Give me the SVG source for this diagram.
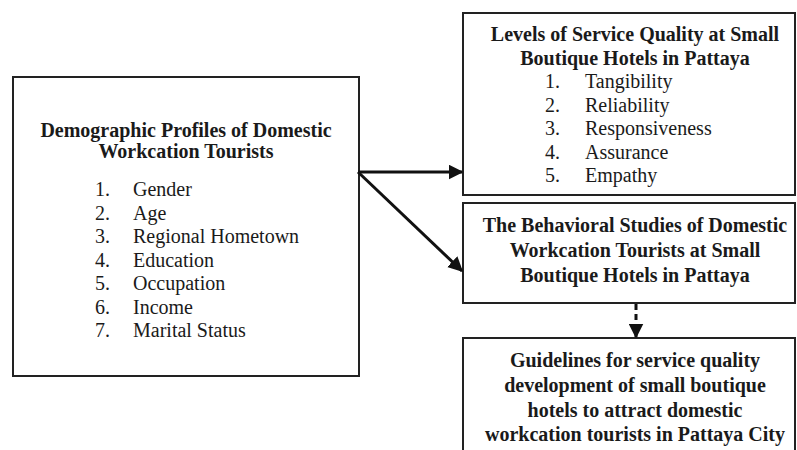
<svg xmlns="http://www.w3.org/2000/svg" width="797" height="450" viewBox="0 0 797 450">
<style>
.box{fill:#fff;stroke:#222;stroke-width:2}
.t{font-family:"Liberation Serif","Times New Roman",serif;font-size:20px;fill:#1a1a1a}
.b{font-weight:bold;text-anchor:middle}
.c{stroke:#111;stroke-width:3;fill:none}
</style>
<defs>
<marker id="ah" markerWidth="5" markerHeight="5" refX="4.5" refY="2.5" orient="auto" markerUnits="strokeWidth">
<path d="M0,0 L5,2.5 L0,5 Z" fill="#111"/>
</marker>
</defs>
<rect width="797" height="450" fill="#fff"/>
<g id="demographic">
<rect class="box" x="13" y="77" width="346" height="299"/>
<text class="t b" x="186" y="137">Demographic Profiles of Domestic</text>
<text class="t b" x="186" y="158">Workcation Tourists</text>
<g class="t">
<text x="95" y="196">1.</text><text x="133" y="196">Gender</text>
<text x="95" y="219.5">2.</text><text x="133" y="219.5">Age</text>
<text x="95" y="243">3.</text><text x="133" y="243">Regional Hometown</text>
<text x="95" y="266.5">4.</text><text x="133" y="266.5">Education</text>
<text x="95" y="290">5.</text><text x="133" y="290">Occupation</text>
<text x="95" y="313.5">6.</text><text x="133" y="313.5">Income</text>
<text x="95" y="337">7.</text><text x="133" y="337">Marital Status</text>
</g>
</g>
<g id="service-quality">
<rect class="box" x="463" y="13" width="332" height="182"/>
<text class="t b" x="635" y="41">Levels of Service Quality at Small</text>
<text class="t b" x="635" y="65">Boutique Hotels in Pattaya</text>
<g class="t">
<text x="545" y="88">1.</text><text x="585" y="88">Tangibility</text>
<text x="545" y="111.5">2.</text><text x="585" y="111.5">Reliability</text>
<text x="545" y="135">3.</text><text x="585" y="135">Responsiveness</text>
<text x="545" y="158.5">4.</text><text x="585" y="158.5">Assurance</text>
<text x="545" y="182">5.</text><text x="585" y="182">Empathy</text>
</g>
</g>
<g id="behavioral">
<rect class="box" x="463" y="203" width="332" height="100"/>
<text class="t b" x="635" y="232">The Behavioral Studies of Domestic</text>
<text class="t b" x="635" y="257">Workcation Tourists at Small</text>
<text class="t b" x="635" y="282">Boutique Hotels in Pattaya</text>
</g>
<g id="guidelines">
<rect class="box" x="463" y="338" width="332" height="130"/>
<text class="t b" x="635" y="367">Guidelines for service quality</text>
<text class="t b" x="635" y="392">development of small boutique</text>
<text class="t b" x="635" y="417">hotels to attract domestic</text>
<text class="t b" x="635" y="441">workcation tourists in Pattaya City</text>
</g>
<g id="connectors">
<line class="c" x1="358" y1="172" x2="462" y2="172" marker-end="url(#ah)"/>
<line class="c" x1="358" y1="172" x2="462" y2="271" marker-end="url(#ah)"/>
<line class="c" x1="636" y1="304" x2="636" y2="337" stroke-dasharray="6,4" marker-end="url(#ah)"/>
</g>
</svg>
